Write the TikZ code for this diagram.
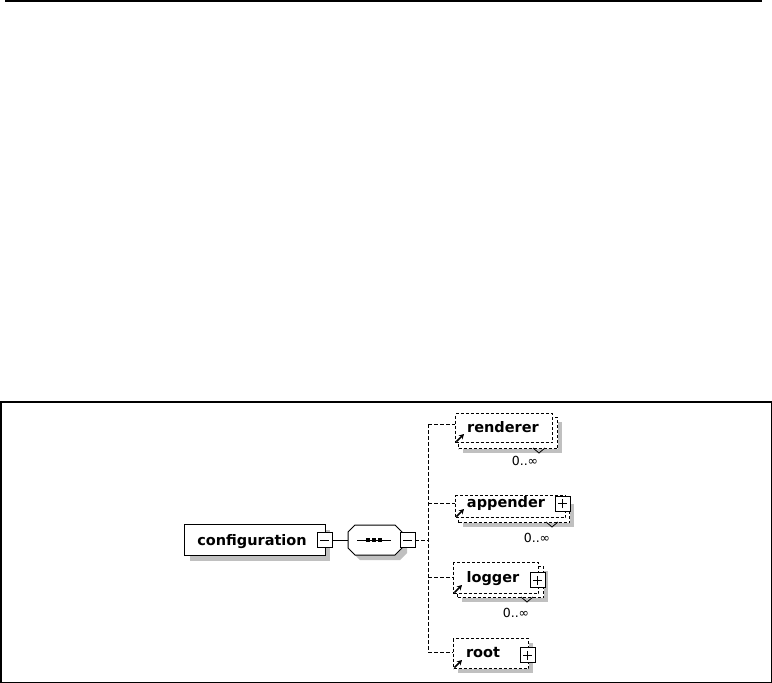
\documentclass[tikz,border=0pt]{standalone}
\usepackage{fontspec}
\setmainfont{DejaVu Sans}
\usetikzlibrary{arrows.meta,calc}
\definecolor{shadowgray}{RGB}{192,192,192}
\tikzset{
  shadowfill/.style={fill=shadowgray, draw=none},
  solidbox/.style={draw=black, fill=white, line width=1pt, inner sep=0pt, anchor=north west},
  elbox/.style={draw=black, fill=white, line width=1pt, dash pattern=on 3pt off 2pt, inner sep=0pt, anchor=north west},
  conn/.style={draw=black, line width=0.9pt, dash pattern=on 3.5pt off 2.5pt},
  solidconn/.style={draw=black, line width=0.9pt},
  lbl/.style={font=\bfseries\fontsize{14.5}{16}\selectfont, inner sep=0pt, anchor=base},
  occ/.style={font=\fontsize{12.5}{14}\selectfont, inner sep=0pt},
  refarrow/.style={-{Stealth[length=5pt,width=5.5pt]}, line width=1.6pt},
  chev/.style={draw=black, line width=0.8pt},
  tog/.style={draw=black, fill=white, line width=0.8pt, minimum width=15pt, minimum height=15pt, inner sep=0pt},
  minusbox/.style={tog, path picture={\draw[line width=0.8pt] ([xshift=-4.5pt]path picture bounding box.center) -- ([xshift=4.5pt]path picture bounding box.center);}},
  plusbox/.style={tog, path picture={\draw[line width=0.8pt] ([xshift=-4.5pt]path picture bounding box.center) -- ([xshift=4.5pt]path picture bounding box.center); \draw[line width=0.8pt] ([yshift=-4.5pt]path picture bounding box.center) -- ([yshift=4.5pt]path picture bounding box.center);}},
}
\begin{document}
\begin{tikzpicture}[x=1pt,y=-1pt]
\useasboundingbox (0,0) rectangle (772,683);
% top rule and frame
\draw[line width=1.5pt] (5,1) -- (762,1);
\draw[line width=1.5pt] (0.75,402) rectangle (771.25,682.25);

% configuration
\fill[shadowfill] (190,530) rectangle (330,561);
\node[solidbox, minimum width=141pt, minimum height=31pt] (cfg) at (184,524) {};
\node[lbl] (cfgT) at (252,545) {configuration};
\node[minusbox] (cfgM) at (324.5,540) {};

% sequence compositor
\fill[shadowfill] (360,530) -- (400,530) -- (407,537) -- (407,553) -- (400,560) -- (360,560) -- (353,553) -- (353,537) -- cycle;
\draw[line width=1pt, fill=white] (355,525) -- (395,525) -- (402,532) -- (402,548) -- (395,555) -- (355,555) -- (348,548) -- (348,532) -- cycle;
\node[inner sep=0pt, minimum width=54pt, minimum height=30pt] (seq) at (375,540) {};
\draw[line width=0.9pt] (357,540) -- (391,540);
\foreach \dx in {368,374,380} \fill (\dx-1.8,538.2) rectangle (\dx+1.8,541.8);
\node[minusbox] (seqM) at (407.5,540) {};
\draw[solidconn] (cfgM.east) -- (seq.west);

% junction
\coordinate (jn) at (428,540);
\coordinate (vt) at (428,424);
\coordinate (ja) at (428,503);
\coordinate (jl) at (428,577);
\coordinate (vb) at (428,652);
\draw[conn] (seqM.east) -- (jn);
\draw[conn] (vt) -- (vb);

% renderer
\fill[shadowfill] (463,422) rectangle (562,453);
\node[elbox, minimum width=99pt, minimum height=31pt] (renB) at (458,417) {};
\node[elbox, minimum width=97pt, minimum height=29pt] (renF) at (455,413) {};
\node[lbl] (renT) at (503,432) {renderer};
\draw[refarrow] ($(renF.south west)+(1.5,-1.5)$) -- ++(7.5,-7.5);
\draw[chev] (533,448) -- (539,453) -- (545,448);
\node[occ] (renO) at (525,461) {0..∞};
\draw[conn] (vt) -- (vt -| renF.west);

% appender
\fill[shadowfill] (463,504) rectangle (574,527);
\node[elbox, minimum width=111pt, minimum height=23pt] (appB) at (458,499) {};
\node[elbox, minimum width=110pt, minimum height=22pt] (appF) at (455,495) {};
\node[lbl] (appT) at (506,507) {appender};
\node[plusbox] (appP) at (562.5,503.5) {};
\draw[refarrow] ($(appF.south west)+(1.5,-1.5)$) -- ++(7.5,-7.5);
\draw[chev] (546,522) -- (552,527) -- (558,522);
\node[occ] (appO) at (537,538) {0..∞};
\draw[conn] (ja) -- (ja -| appF.west);

% logger
\fill[shadowfill] (462,571) rectangle (548,602);
\node[elbox, minimum width=86pt, minimum height=31pt] (logB) at (457,566) {};
\node[elbox, minimum width=85pt, minimum height=31pt] (logF) at (453,562) {};
\node[lbl] (logT) at (493,582) {logger};
\node[plusbox] (logP) at (537.5,580) {};
\draw[refarrow] ($(logF.south west)+(1.5,-1.5)$) -- ++(7.5,-7.5);
\draw[chev] (521,597) -- (527,602) -- (533,597);
\node[occ] (logO) at (516,613) {0..∞};
\draw[conn] (jl) -- (jl -| logF.west);

% root
\fill[shadowfill] (458,643) rectangle (533,673);
\node[elbox, minimum width=75pt, minimum height=30pt] (rootF) at (453,638) {};
\node[lbl] (rootT) at (483,657) {root};
\node[plusbox] (rootP) at (527.5,655) {};
\draw[refarrow] ($(rootF.south west)+(1.5,-1.5)$) -- ++(7.5,-7.5);
\draw[conn] (vb) -- (vb -| rootF.west);
\end{tikzpicture}
\end{document}
